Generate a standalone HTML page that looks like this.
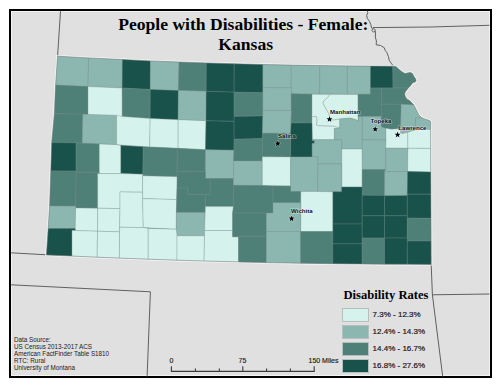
<!DOCTYPE html>
<html><head><meta charset="utf-8"><style>
html,body{margin:0;padding:0;background:#fff;}
body{width:500px;height:386px;overflow:hidden;position:relative;}
#frame{position:absolute;left:8.5px;top:8.5px;width:479px;height:365px;border:2px solid #000;background:#e0e0e0;box-shadow:inset 0 0 0 1px rgba(255,255,255,0.6);}
svg{position:absolute;left:0;top:0;}
.c1{fill:#d5f2ed;} .c2{fill:#8cb7b1;} .c3{fill:#4f8078;} .c4{fill:#18524b;}
.counties polygon{stroke:rgba(120,140,136,0.75);stroke-width:0.4;stroke-linejoin:round;}
.riv{fill:none;stroke:#8f9b98;stroke-width:0.6;}
.star{fill:#000;stroke:rgba(255,255,255,0.6);stroke-width:0.8;paint-order:stroke;}
.city{font-family:"Liberation Sans",sans-serif;font-size:6.1px;font-weight:bold;fill:#111;stroke:rgba(255,255,255,0.55);stroke-width:1.1px;paint-order:stroke;stroke-linejoin:round;}
.st{fill:none;stroke:#5a5a5a;stroke-width:0.95;}
.t{position:absolute;font-family:"Liberation Sans",sans-serif;color:#1a1a1a;white-space:nowrap;}
.sw{position:absolute;left:342px;width:25px;height:12px;border:0.7px solid #b5bfbd;}
.lg{left:372.6px;font-size:8px;line-height:10px;color:#1a1a1a;-webkit-text-stroke:0.2px #1a1a1a;}
.sc{font-size:7px;line-height:8px;color:#1a1a1a;-webkit-text-stroke:0.15px #1a1a1a;}
.title{position:absolute;width:500px;text-align:center;font-family:"Liberation Serif",serif;font-weight:bold;font-size:17.6px;line-height:20px;color:#000;white-space:nowrap;}
</style></head><body>
<div id="frame"></div>
<svg width="500" height="386" viewBox="0 0 500 386">
<path class="st" d="M60.5,11 L57.6,56.2"/>
<path class="st" d="M367,10.5 L367.9,12.5 L366.6,15.5 L367.4,18.5 L369.5,21.5 L370.8,24.5 L371.3,27 L372.6,29.2 L371.8,30.6 L373.5,32 L375.3,31.4 L374.8,29.2 L373.2,28.6 M375.3,31.4 L375.5,34 L375.3,37 L376.4,41 L376.2,44.8 L380.5,45.5 L384.4,47.8 L385.2,50.5 L386.8,52.5 L388.4,56.5 L389.3,60.5 L391.2,63.2 L393,65.6"/>
<path class="st" d="M372.8,27.6 L430,27 L489.5,25.3"/>
<path class="st" d="M431.2,264.4 L432.4,294.8 L442.7,376.5"/>
<path class="st" d="M432.4,294.8 L489.5,294"/>
<path class="st" d="M11,252.8 L46.4,254.8"/>
<path class="st" d="M11,284.8 L150.4,291.8 L147.1,376.5"/>
<path d="M46.4,254.9 L46.4,254.9 L72.0,256.1 L72.0,256.1 L97.1,257.2 L97.1,257.2 L119.4,258.1 L119.4,258.1 L148.2,259.2 L148.2,259.2 L177.0,260.2 L177.0,260.2 L204.1,261.0 L204.1,261.0 L238.5,261.9 L238.5,261.9 L266.4,262.6 L266.4,262.6 L300.6,263.2 L300.6,263.2 L332.9,263.7 L332.9,263.7 L362.2,264.0 L362.2,264.0 L384.6,264.2 L384.6,264.2 L407.3,264.3 L407.3,264.3 L431.2,264.4 L431.2,264.4 L431.2,264.4 L431.1,241.1 L431.1,241.1 L431.0,218.3 L430.9,194.2 L430.9,194.2 L430.8,172.0 L430.7,148.4 L430.7,148.4 L430.6,129.5 L430.6,129.5 L430.6,121.5 L430.6,121.5 L430.6,121.5 L429.0,120.2 L429.0,120.2 L429.0,120.2 L425.8,119.4 L425.8,119.4 L421.8,117.8 L421.8,117.8 L421.8,117.8 L421.8,117.8 L421.8,117.8 L418.6,114.6 L418.6,114.6 L418.6,114.6 L418.6,114.6 L416.2,109.7 L413.8,104.9 L413.8,104.9 L413.8,104.9 L413.8,104.9 L412.0,103.0 L412.0,103.0 L409.9,100.7 L409.9,100.7 L409.9,100.7 L406.8,98.9 L406.8,98.9 L406.8,98.9 L406.8,98.9 L406.8,98.9 L406.8,98.9 L405.2,96.3 L405.2,96.3 L405.2,96.3 L405.2,96.3 L404.7,94.2 L404.7,94.2 L404.7,94.2 L404.7,94.2 L404.7,94.2 L404.7,94.2 L405.2,92.1 L405.2,92.1 L405.2,92.1 L405.2,92.1 L405.2,92.1 L406.8,90.0 L408.3,88.0 L408.3,88.0 L410.4,85.9 L410.4,85.9 L412.0,83.8 L412.0,83.8 L413.5,82.3 L413.5,82.3 L413.5,82.3 L413.5,82.3 L413.5,82.3 L413.5,82.3 L413.5,82.3 L413.5,82.3 L413.5,82.3 L415.0,82.3 L415.0,82.3 L415.0,82.3 L416.1,80.7 L416.1,80.7 L416.1,80.7 L415.6,78.7 L415.6,78.7 L415.6,78.7 L414.0,76.6 L414.0,76.6 L414.0,76.6 L413.0,74.5 L413.0,74.5 L413.0,74.5 L411.9,73.0 L411.9,73.0 L411.9,73.0 L409.9,72.4 L409.9,72.4 L409.9,72.4 L407.3,73.0 L405.2,73.5 L405.2,73.5 L405.2,73.5 L405.2,73.5 L405.2,73.5 L405.2,73.5 L405.2,73.5 L405.2,73.5 L403.1,72.4 L403.1,72.4 L401.0,70.9 L401.0,70.9 L399.5,69.8 L399.5,69.8 L397.4,67.8 L397.4,67.8 L395.4,66.2 L395.4,66.2 L395.4,66.2 L392.8,66.2 L392.8,66.2 L370.5,66.1 L370.5,66.1 L347.3,65.9 L347.3,65.9 L319.8,65.6 L319.8,65.6 L291.2,65.1 L291.2,65.1 L262.9,64.5 L262.9,64.5 L234.2,63.8 L234.2,63.8 L206.3,62.9 L206.3,62.9 L179.0,62.0 L179.0,62.0 L150.4,60.9 L150.4,60.9 L122.4,59.5 L122.4,59.5 L88.6,57.9 L88.6,57.9 L57.6,56.2 L57.6,56.2 L57.6,56.2 L55.6,85.0 L54.4,113.5 L54.4,113.5 L51.7,142.6 L51.7,142.6 L51.7,142.6 L51.7,142.6 L50.8,170.9 L50.8,170.9 L49.6,206.0 L49.6,206.0 L48.2,228.4 L48.2,228.4 L46.4,254.9 L46.4,254.9Z" fill="#7f9792" stroke="rgba(255,255,255,0.7)" stroke-width="2.4"/>
<g class="counties">
<polygon class="c2" points="57.6,56.2 88.6,57.9 88.0,86.6 55.6,85.0"/>
<polygon class="c2" points="88.6,57.9 122.4,59.5 122.2,88.0 88.0,86.6"/>
<polygon class="c4" points="122.4,59.5 150.4,60.9 150.3,89.5 122.2,88.0"/>
<polygon class="c2" points="150.4,60.9 179.0,62.0 178.4,90.5 150.3,89.5"/>
<polygon class="c3" points="179.0,62.0 206.3,62.9 206.2,91.3 178.4,90.5"/>
<polygon class="c4" points="206.3,62.9 234.2,63.8 234.1,92.2 206.2,91.3"/>
<polygon class="c4" points="234.2,63.8 262.9,64.5 262.9,92.7 234.1,92.2"/>
<polygon class="c2" points="262.9,64.5 291.2,65.1 291.2,87.9 262.9,87.7"/>
<polygon class="c2" points="291.2,65.1 319.8,65.6 319.8,94.0 291.2,93.7"/>
<polygon class="c2" points="319.8,65.6 347.3,65.9 347.3,94.2 319.8,94.0"/>
<polygon class="c2" points="347.3,65.9 370.5,66.1 370.5,94.2 347.3,94.2"/>
<polygon class="c4" points="370.5,66.1 392.8,66.2 393.0,87.9 370.5,87.9"/>
<polygon class="c3" points="392.8,66.2 395.4,66.2 397.4,67.8 399.5,69.8 401.0,70.9 403.1,72.4 405.2,73.5 407.3,73.0 409.9,72.4 411.9,73.0 413.0,74.5 414.0,76.6 415.6,78.7 416.1,80.7 415.0,82.3 413.5,82.3 412.0,83.8 410.4,85.9 408.3,88.0 393.0,87.9"/>
<polygon class="c3" points="55.6,85.0 88.0,86.6 88.0,114.8 54.4,113.5"/>
<polygon class="c1" points="88.0,86.6 122.2,88.0 122.3,116.5 88.0,114.8"/>
<polygon class="c3" points="122.2,88.0 150.3,89.5 150.2,118.5 122.3,116.5"/>
<polygon class="c4" points="150.3,89.5 178.4,90.5 178.1,119.7 150.2,118.5"/>
<polygon class="c2" points="178.4,90.5 206.2,91.3 206.0,120.7 178.1,119.7"/>
<polygon class="c4" points="206.2,91.3 234.1,92.2 234.1,121.4 206.0,120.7"/>
<polygon class="c3" points="234.1,92.2 262.9,92.7 262.9,115.9 234.1,116.5"/>
<polygon class="c2" points="262.9,87.7 291.2,87.9 291.2,110.5 262.9,110.3"/>
<polygon class="c3" points="291.2,93.7 312.0,94.2 312.0,123.0 291.2,123.0"/>
<polygon class="c1" points="312.0,94.2 358.0,94.5 358.2,120.8 354.5,119.3 350.6,118.2 345.8,118.4 339.8,119.0 339.8,128.0 334.4,128.6 334.4,139.8 312.2,139.8 312.0,123.0"/>
<polygon class="c3" points="358.0,94.3 370.5,94.2 370.5,87.9 381.5,87.9 381.5,104.2 381.4,116.6 358.0,116.6"/>
<polygon class="c3" points="381.5,87.9 393.0,87.9 408.3,88.0 406.8,90.0 405.2,92.1 404.7,94.2 405.2,96.3 406.8,98.9 409.9,100.7 412.0,103.0 413.8,104.9 381.5,104.2"/>
<polygon class="c3" points="54.4,113.5 82.9,114.2 82.3,143.2 51.7,142.6"/>
<polygon class="c2" points="82.9,114.2 116.6,115.2 116.6,144.7 82.3,143.2"/>
<polygon class="c1" points="116.6,115.2 122.3,116.5 150.2,118.5 149.6,147.0 116.6,144.7"/>
<polygon class="c1" points="150.2,118.5 178.1,119.7 178.1,148.3 149.6,147.0"/>
<polygon class="c1" points="178.1,119.7 206.0,120.7 205.5,149.7 178.1,148.3"/>
<polygon class="c4" points="206.0,120.7 234.1,121.4 234.1,139.2 234.0,150.3 205.5,149.7"/>
<polygon class="c4" points="234.1,116.5 262.9,115.9 262.5,133.2 262.4,138.6 234.1,139.2"/>
<polygon class="c2" points="262.9,110.3 291.2,110.5 290.6,123.0 290.6,133.3 262.5,133.2"/>
<polygon class="c4" points="291.2,123.0 312.0,123.0 312.2,139.8 312.2,140.4 314.5,140.4 314.5,143.6 312.2,143.6 312.2,156.9 290.6,156.9 290.6,133.3"/>
<polygon class="c2" points="339.8,119.0 345.8,118.4 350.6,118.2 354.5,119.3 358.2,120.8 358.5,116.6 362.3,116.6 362.3,139.8 362.0,149.0 341.8,149.0 341.8,139.8 334.4,139.8 334.4,128.6 339.8,128.0"/>
<polygon class="c2" points="358.5,116.6 381.4,116.6 381.4,126.5 383.5,127.5 385.8,128.3 386.0,139.9 362.3,139.8 362.3,116.6"/>
<polygon class="c3" points="381.4,104.2 401.2,104.3 400.6,128.5 391.4,129.2 385.8,128.3 383.5,127.5 381.4,126.5"/>
<polygon class="c2" points="401.2,104.3 413.8,104.9 416.2,109.7 418.6,114.6 421.8,117.8 415.5,118.0 415.5,130.0 412.0,131.0 407.8,132.3 403.0,133.5 400.6,133.0 400.6,128.5"/>
<polygon class="c2" points="415.5,118.0 421.8,117.8 425.8,119.4 429.0,120.2 430.6,121.5 430.6,129.5 423.0,129.2 415.5,130.0"/>
<polygon class="c4" points="51.7,142.6 76.1,142.9 76.1,171.1 50.8,170.9"/>
<polygon class="c3" points="76.1,142.9 82.3,143.2 99.3,143.9 99.3,172.4 76.1,172.3 76.1,171.1"/>
<polygon class="c1" points="99.3,143.9 116.6,144.7 120.9,145.4 120.9,173.6 99.3,173.6 99.3,172.4"/>
<polygon class="c4" points="120.9,145.4 143.3,146.7 142.8,174.3 120.9,173.5"/>
<polygon class="c3" points="143.3,146.7 149.6,147.0 177.3,148.3 177.2,176.7 142.8,175.8"/>
<polygon class="c3" points="177.3,148.3 205.5,149.7 205.4,171.4 177.2,171.3"/>
<polygon class="c2" points="205.5,149.7 234.0,150.3 233.6,161.0 233.5,178.6 205.4,178.5 205.4,171.4"/>
<polygon class="c3" points="234.1,139.2 262.4,138.6 262.3,156.8 262.3,161.0 233.6,161.0"/>
<polygon class="c3" points="262.5,133.2 290.6,133.3 290.6,156.9 262.3,156.8"/>
<polygon class="c2" points="312.2,139.8 334.4,139.8 341.8,139.8 341.8,149.0 341.7,163.9 317.9,163.9 317.9,156.9 312.2,156.9 312.2,143.6 314.5,143.6 314.5,140.4 312.2,140.4"/>
<polygon class="c2" points="362.3,139.8 386.0,139.9 385.8,148.2 385.5,169.6 362.2,169.6 362.0,149.0"/>
<polygon class="c1" points="385.8,128.3 391.4,129.2 400.6,128.5 400.6,133.0 403.0,133.5 407.8,132.3 407.9,148.3 385.8,148.2 386.0,139.9"/>
<polygon class="c1" points="407.8,132.3 412.0,131.0 415.5,130.0 423.0,129.2 430.6,129.5 430.7,148.4 407.9,148.3"/>
<polygon class="c1" points="341.8,149.0 362.0,149.0 362.2,169.6 362.2,187.0 341.7,186.9"/>
<polygon class="c3" points="50.8,170.9 76.1,171.1 76.1,172.3 75.7,206.2 49.6,206.0"/>
<polygon class="c3" points="76.1,172.3 99.3,172.4 99.3,173.6 97.7,173.6 97.7,208.2 75.7,207.9 75.7,206.2"/>
<polygon class="c1" points="97.7,173.6 99.3,173.6 120.9,173.6 142.8,174.3 142.6,175.8 142.6,192.2 120.0,191.9 120.0,208.6 97.7,208.2"/>
<polygon class="c1" points="142.6,175.8 177.2,176.7 176.6,199.6 142.6,198.6"/>
<polygon class="c3" points="177.2,171.3 205.4,171.4 205.4,178.5 210.2,178.5 210.2,194.6 187.7,194.6 187.7,188.1 177.0,188.1"/>
<polygon class="c3" points="210.2,178.5 233.5,178.6 233.5,185.3 233.5,206.6 205.4,206.6 205.4,194.6 210.2,194.6"/>
<polygon class="c2" points="233.6,161.0 262.3,161.0 262.3,185.5 233.5,185.3"/>
<polygon class="c1" points="262.3,156.8 290.6,156.9 290.6,185.9 262.3,185.5"/>
<polygon class="c2" points="290.6,156.9 312.2,156.9 317.9,156.9 317.9,163.9 317.8,191.3 300.8,191.5 290.6,191.5 290.6,185.6"/>
<polygon class="c2" points="317.9,163.9 341.7,163.9 341.7,186.9 341.6,191.8 317.8,191.3"/>
<polygon class="c3" points="362.2,169.6 385.5,169.6 384.7,171.5 384.6,195.4 362.2,195.3 362.2,187.0"/>
<polygon class="c2" points="385.8,148.2 407.9,148.3 407.6,171.6 384.7,171.5 385.5,169.6"/>
<polygon class="c1" points="407.9,148.3 430.7,148.4 430.8,172.0 407.6,171.6"/>
<polygon class="c2" points="49.6,206.0 75.7,206.2 75.7,207.9 75.2,228.6 48.2,228.4"/>
<polygon class="c1" points="75.7,207.9 97.7,208.2 97.6,231.2 75.2,230.5 75.2,228.6"/>
<polygon class="c1" points="97.7,208.2 120.0,208.6 119.6,227.2 119.5,231.8 97.6,231.2"/>
<polygon class="c1" points="120.0,191.9 142.6,192.2 142.6,198.6 143.3,227.6 119.6,227.2 120.0,208.6"/>
<polygon class="c1" points="142.6,198.6 176.6,199.6 176.4,212.4 176.3,229.2 143.3,227.6"/>
<polygon class="c3" points="177.0,188.1 187.7,188.1 187.7,194.6 205.4,194.6 205.4,206.6 205.3,212.4 176.4,212.4"/>
<polygon class="c2" points="176.4,212.4 205.3,212.4 204.6,230.5 204.5,235.8 177.0,235.8 176.3,229.2"/>
<polygon class="c1" points="205.4,206.6 233.5,206.6 232.6,213.0 232.6,230.5 204.6,230.5"/>
<polygon class="c3" points="233.5,185.3 262.3,185.5 273.0,185.9 273.0,213.0 266.4,213.0 232.6,213.0 233.5,206.6"/>
<polygon class="c3" points="273.0,185.9 290.6,185.9 290.6,191.5 300.9,191.6 300.8,202.8 273.0,202.8"/>
<polygon class="c1" points="300.9,191.6 317.8,191.5 332.9,191.8 332.9,231.6 300.6,231.6 300.8,202.8"/>
<polygon class="c4" points="341.6,191.8 341.7,186.9 362.2,187.0 362.2,195.3 362.2,224.0 332.9,224.0 332.9,191.8"/>
<polygon class="c4" points="362.2,195.3 384.6,195.4 384.6,215.8 362.2,215.8"/>
<polygon class="c4" points="384.6,195.4 407.3,195.3 407.3,215.8 384.6,215.8"/>
<polygon class="c2" points="384.7,171.5 407.6,171.6 407.3,194.2 407.3,195.3 384.6,195.4"/>
<polygon class="c4" points="407.6,171.6 430.8,172.0 430.9,194.2 407.3,194.2"/>
<polygon class="c4" points="407.3,194.2 430.9,194.2 431.0,218.3 407.3,218.2 407.3,215.8"/>
<polygon class="c4" points="48.2,228.4 75.2,228.6 75.2,230.5 72.0,230.4 72.0,256.1 46.4,254.9"/>
<polygon class="c1" points="72.0,230.4 75.2,230.5 97.6,231.2 97.1,257.2 72.0,256.1"/>
<polygon class="c1" points="97.6,231.2 119.5,231.8 119.4,258.1 97.1,257.2"/>
<polygon class="c1" points="119.6,227.2 143.3,227.6 148.2,228.4 148.2,259.2 119.4,258.1"/>
<polygon class="c1" points="148.2,228.4 176.3,229.2 177.0,235.8 177.0,260.2 148.2,259.2"/>
<polygon class="c1" points="177.0,235.8 204.5,235.8 204.1,261.0 177.0,260.2"/>
<polygon class="c1" points="204.6,230.5 232.6,230.5 232.6,236.8 238.5,236.8 238.5,261.9 204.1,261.0"/>
<polygon class="c3" points="232.6,213.0 266.4,213.0 266.4,231.6 266.4,236.2 238.5,236.2 238.5,236.8 232.6,236.8 232.6,230.5"/>
<polygon class="c3" points="238.5,236.2 266.4,236.2 266.4,262.6 238.5,261.9"/>
<polygon class="c2" points="273.0,202.8 300.8,202.8 300.6,231.6 266.4,231.6 266.4,213.0 273.0,213.0"/>
<polygon class="c2" points="266.4,231.6 300.6,231.6 300.6,263.2 266.4,262.6"/>
<polygon class="c3" points="300.6,231.6 332.9,231.6 332.9,263.7 300.6,263.2"/>
<polygon class="c4" points="332.9,224.0 362.2,224.0 362.2,238.0 362.2,243.8 332.9,243.8"/>
<polygon class="c4" points="332.9,243.8 362.2,243.8 362.2,264.0 332.9,263.7"/>
<polygon class="c4" points="362.2,215.8 384.6,215.8 384.6,238.0 362.2,238.0"/>
<polygon class="c4" points="384.6,215.8 407.3,215.8 407.3,218.2 407.3,238.0 384.6,238.0"/>
<polygon class="c3" points="407.3,218.2 431.0,218.3 431.1,241.1 407.3,241.0"/>
<polygon class="c3" points="362.2,238.0 384.6,238.0 384.6,264.2 362.2,264.0"/>
<polygon class="c4" points="384.6,238.0 407.3,238.0 407.3,241.0 407.3,264.3 384.6,264.2"/>
<polygon class="c4" points="407.3,241.0 431.1,241.1 431.2,264.4 407.3,264.3"/>
</g>
<path d="M46.4,254.9 L46.4,254.9 L72.0,256.1 L72.0,256.1 L97.1,257.2 L97.1,257.2 L119.4,258.1 L119.4,258.1 L148.2,259.2 L148.2,259.2 L177.0,260.2 L177.0,260.2 L204.1,261.0 L204.1,261.0 L238.5,261.9 L238.5,261.9 L266.4,262.6 L266.4,262.6 L300.6,263.2 L300.6,263.2 L332.9,263.7 L332.9,263.7 L362.2,264.0 L362.2,264.0 L384.6,264.2 L384.6,264.2 L407.3,264.3 L407.3,264.3 L431.2,264.4 L431.2,264.4 L431.2,264.4 L431.1,241.1 L431.1,241.1 L431.0,218.3 L430.9,194.2 L430.9,194.2 L430.8,172.0 L430.7,148.4 L430.7,148.4 L430.6,129.5 L430.6,129.5 L430.6,121.5 L430.6,121.5 L430.6,121.5 L429.0,120.2 L429.0,120.2 L429.0,120.2 L425.8,119.4 L425.8,119.4 L421.8,117.8 L421.8,117.8 L421.8,117.8 L421.8,117.8 L421.8,117.8 L418.6,114.6 L418.6,114.6 L418.6,114.6 L418.6,114.6 L416.2,109.7 L413.8,104.9 L413.8,104.9 L413.8,104.9 L413.8,104.9 L412.0,103.0 L412.0,103.0 L409.9,100.7 L409.9,100.7 L409.9,100.7 L406.8,98.9 L406.8,98.9 L406.8,98.9 L406.8,98.9 L406.8,98.9 L406.8,98.9 L405.2,96.3 L405.2,96.3 L405.2,96.3 L405.2,96.3 L404.7,94.2 L404.7,94.2 L404.7,94.2 L404.7,94.2 L404.7,94.2 L404.7,94.2 L405.2,92.1 L405.2,92.1 L405.2,92.1 L405.2,92.1 L405.2,92.1 L406.8,90.0 L408.3,88.0 L408.3,88.0 L410.4,85.9 L410.4,85.9 L412.0,83.8 L412.0,83.8 L413.5,82.3 L413.5,82.3 L413.5,82.3 L413.5,82.3 L413.5,82.3 L413.5,82.3 L413.5,82.3 L413.5,82.3 L413.5,82.3 L415.0,82.3 L415.0,82.3 L415.0,82.3 L416.1,80.7 L416.1,80.7 L416.1,80.7 L415.6,78.7 L415.6,78.7 L415.6,78.7 L414.0,76.6 L414.0,76.6 L414.0,76.6 L413.0,74.5 L413.0,74.5 L413.0,74.5 L411.9,73.0 L411.9,73.0 L411.9,73.0 L409.9,72.4 L409.9,72.4 L409.9,72.4 L407.3,73.0 L405.2,73.5 L405.2,73.5 L405.2,73.5 L405.2,73.5 L405.2,73.5 L405.2,73.5 L405.2,73.5 L405.2,73.5 L403.1,72.4 L403.1,72.4 L401.0,70.9 L401.0,70.9 L399.5,69.8 L399.5,69.8 L397.4,67.8 L397.4,67.8 L395.4,66.2 L395.4,66.2 L395.4,66.2 L392.8,66.2 L392.8,66.2 L370.5,66.1 L370.5,66.1 L347.3,65.9 L347.3,65.9 L319.8,65.6 L319.8,65.6 L291.2,65.1 L291.2,65.1 L262.9,64.5 L262.9,64.5 L234.2,63.8 L234.2,63.8 L206.3,62.9 L206.3,62.9 L179.0,62.0 L179.0,62.0 L150.4,60.9 L150.4,60.9 L122.4,59.5 L122.4,59.5 L88.6,57.9 L88.6,57.9 L57.6,56.2 L57.6,56.2 L57.6,56.2 L55.6,85.0 L54.4,113.5 L54.4,113.5 L51.7,142.6 L51.7,142.6 L51.7,142.6 L51.7,142.6 L50.8,170.9 L50.8,170.9 L49.6,206.0 L49.6,206.0 L48.2,228.4 L48.2,228.4 L46.4,254.9 L46.4,254.9Z" fill="none" stroke="rgba(95,105,103,0.55)" stroke-width="0.6"/>
<path class="riv" d="M329.8,94.5 L328.7,96.2 L323.7,101.2 L323.1,103.4 L324.8,106.8 L327,110.7 L328.7,113.5 L329.8,116.9 L329.5,119.5 L333,120 L339.8,119"/>
<path class="riv" d="M312.2,116.6 L316.4,116.6 L317,119.6 L316.4,125 L318.2,125.6 L333.8,126.2 L339.8,128"/>
<polygon class="star" points="329.50,116.10 330.26,118.25 332.54,118.31 330.74,119.70 331.38,121.89 329.50,120.60 327.62,121.89 328.26,119.70 326.46,118.31 328.74,118.25"/><text class="city" x="330" y="113.8">Manhattan</text><polygon class="star" points="375.20,126.00 375.96,128.15 378.24,128.21 376.44,129.60 377.08,131.79 375.20,130.50 373.32,131.79 373.96,129.60 372.16,128.21 374.44,128.15"/><text class="city" x="370.6" y="123.4">Topeka</text><polygon class="star" points="397.60,131.60 398.36,133.75 400.64,133.81 398.84,135.20 399.48,137.39 397.60,136.10 395.72,137.39 396.36,135.20 394.56,133.81 396.84,133.75"/><text class="city" x="398.3" y="129.7">Lawrence</text><polygon class="star" points="277.80,140.40 278.56,142.55 280.84,142.61 279.04,144.00 279.68,146.19 277.80,144.90 275.92,146.19 276.56,144.00 274.76,142.61 277.04,142.55"/><text class="city" x="278" y="137.8">Salina</text><polygon class="star" points="291.60,215.40 292.36,217.55 294.64,217.61 292.84,219.00 293.48,221.19 291.60,219.90 289.72,221.19 290.36,219.00 288.56,217.61 290.84,217.55"/><text class="city" x="291" y="213.3">Wichita</text>
</svg>
<div class="title" style="left:-6.75px;top:14.2px;">People with Disabilities - Female:</div>
<div class="title" style="left:-4.3px;top:34px;">Kansas</div>
<div class="t" id="src" style="left:14px;top:336px;font-size:6.3px;line-height:7px;color:#222;">Data Source:<br>US Census 2013-2017 ACS<br>American FactFinder Table S1810<br>RTC: Rural<br>University of Montana</div>
<div id="legtitle" style="position:absolute;left:343.5px;top:287.5px;font-family:'Liberation Serif',serif;font-weight:bold;font-size:12.6px;color:#000;white-space:nowrap;">Disability Rates</div>
<div class="sw" style="top:308px;background:#d5f2ed"></div>
<div class="sw" style="top:325px;background:#8cb7b1"></div>
<div class="sw" style="top:342px;background:#4f8078"></div>
<div class="sw" style="top:359px;background:#18524b"></div>
<div class="t lg" style="top:310px;">7.3% - 12.3%</div>
<div class="t lg" style="top:327px;">12.4% - 14.3%</div>
<div class="t lg" style="top:344px;">14.4% - 16.7%</div>
<div class="t lg" style="top:361px;">16.8% - 27.6%</div>
<div class="t sc" style="left:169.5px;top:357.3px;">0</div>
<div class="t sc" style="left:238.5px;top:357.3px;">75</div>
<div class="t sc" style="left:308.5px;top:357.3px;">150 Miles</div>
<svg style="position:absolute;left:0;top:0" width="500" height="386"><path d="M171.4,366.3 V371.4 H314.2 V366.3 M195.4,368.6 V371.4 M219.3,368.6 V371.4 M242.8,366.3 V371.4 M266.6,368.6 V371.4 M290.4,368.6 V371.4" fill="none" stroke="#3a3a3a" stroke-width="1.1"/></svg>
</body></html>
